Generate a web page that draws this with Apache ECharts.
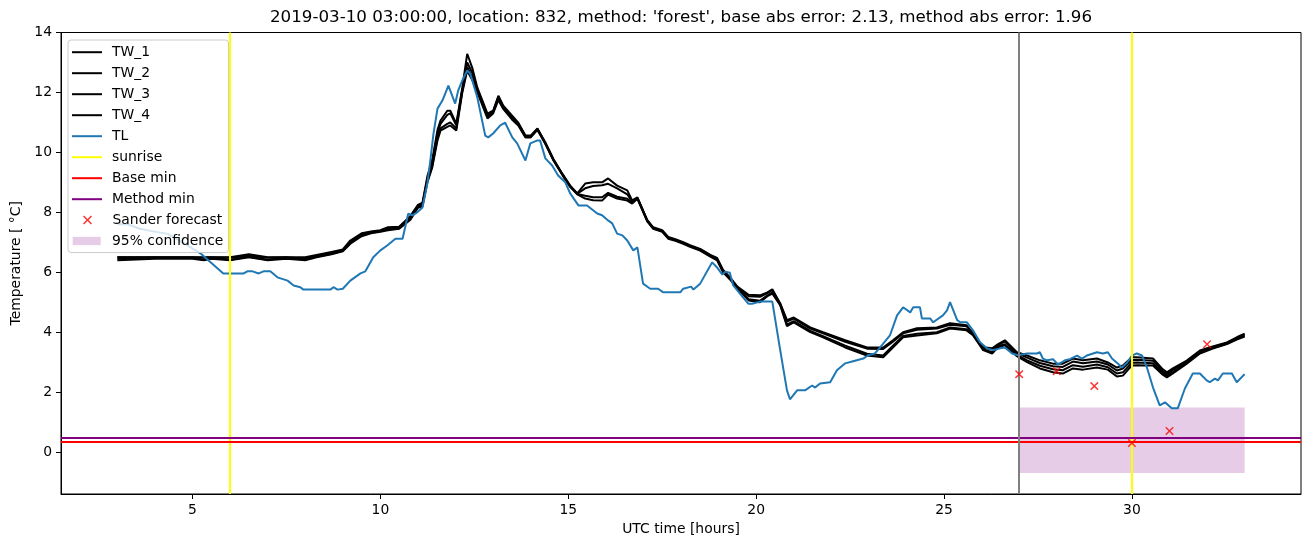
<!DOCTYPE html>
<html><head><meta charset="utf-8">
<script src="https://cdn.jsdelivr.net/npm/echarts@6/dist/echarts.min.js"></script>
<style>html,body{margin:0;padding:0;background:#fff}#c{width:1310px;height:547px}</style>
</head><body><div id="c"></div>
<script>
const twTime = [3,4,5,5.3,5.5,6,6.5,7,7.5,8,8.3,8.7,9.0,9.2,9.5,9.75,10.0,10.2,10.5,10.8,11.0,11.12,11.25,11.38,11.52,11.6,11.78,11.86,12.02,12.18,12.31,12.45,12.58,12.85,13.0,13.14,13.27,13.5,13.67,13.86,14.0,14.18,14.39,14.6,14.84,15.05,15.24,15.45,15.66,15.9,16.06,16.3,16.57,16.7,16.84,17.1,17.26,17.5,17.66,17.85,18.06,18.24,18.51,18.78,18.96,19.12,19.31,19.5,19.8,20.1,20.3,20.43,20.64,20.82,21.0,21.44,21.78,22.37,22.95,23.38,23.64,23.91,24.28,24.81,25.16,25.6,25.77,26.04,26.28,26.44,26.62,26.94,27.21,27.55,27.9,28.16,28.43,28.7,29.07,29.36,29.6,29.76,30.0,30.13,30.56,30.8,30.93,31.09,31.46,31.81,32.15,32.53,32.79,33];
const tw1 = [6.5,6.5,6.5,6.5,6.5,6.5,6.6,6.5,6.5,6.5,6.58,6.68,6.76,7.06,7.3,7.36,7.4,7.5,7.52,7.88,8.25,8.32,9.2,9.75,10.75,11.06,11.39,11.39,10.96,12.16,13.29,12.8,12.16,11.29,11.39,11.89,11.56,11.23,10.99,10.56,10.56,10.8,10.33,9.79,9.29,8.89,8.63,8.96,9.0,9.0,9.13,8.89,8.73,8.4,8.5,7.75,7.5,7.4,7.18,7.1,7.0,6.9,6.78,6.58,6.48,6.08,5.82,5.52,5.25,5.23,5.33,5.43,4.96,4.4,4.49,4.16,4.0,3.73,3.49,3.49,3.73,4.0,4.13,4.16,4.3,4.23,3.96,3.5,3.46,3.6,3.73,3.33,3.22,3.06,2.95,2.95,3.12,3.06,3.12,2.99,2.82,2.89,3.16,3.16,3.12,2.79,2.66,2.79,3.05,3.39,3.52,3.66,3.83,3.95];
const tw2 = [6.5,6.5,6.5,6.48,6.5,6.48,6.55,6.48,6.5,6.45,6.55,6.66,6.73,7.02,7.27,7.34,7.38,7.47,7.5,7.85,8.22,8.28,9.12,9.65,10.65,10.95,11.25,11.3,10.9,12.1,13.0,12.65,12.1,11.22,11.36,11.85,11.52,11.18,10.96,10.54,10.54,10.78,10.31,9.77,9.28,8.88,8.62,8.8,8.88,8.9,8.95,8.8,8.6,8.35,8.48,7.73,7.48,7.38,7.16,7.08,6.98,6.88,6.76,6.56,6.45,6.05,5.8,5.5,5.2,5.18,5.3,5.4,4.95,4.35,4.45,4.12,3.96,3.68,3.45,3.44,3.68,3.96,4.08,4.12,4.25,4.2,3.95,3.48,3.42,3.57,3.69,3.3,3.15,2.97,2.86,2.84,3.02,2.96,3.02,2.92,2.72,2.79,3.07,3.08,3.05,2.72,2.6,2.74,3.02,3.36,3.5,3.64,3.8,3.92];
const tw3 = [6.45,6.48,6.48,6.42,6.48,6.42,6.52,6.42,6.48,6.42,6.52,6.62,6.72,6.98,7.24,7.32,7.37,7.43,7.47,7.8,8.18,8.24,9.05,9.55,10.5,10.8,10.95,11.0,10.8,12.05,12.85,12.5,12.05,11.18,11.33,11.8,11.48,11.14,10.93,10.52,10.52,10.77,10.3,9.76,9.26,8.86,8.61,8.55,8.5,8.5,8.65,8.52,8.45,8.32,8.47,7.72,7.47,7.37,7.14,7.07,6.97,6.87,6.74,6.54,6.43,6.03,5.77,5.47,5.1,5.05,5.23,5.32,4.92,4.25,4.37,4.04,3.87,3.55,3.28,3.22,3.55,3.87,3.95,4.0,4.16,4.1,3.92,3.43,3.33,3.53,3.6,3.24,3.06,2.88,2.76,2.73,2.9,2.85,2.92,2.83,2.62,2.66,2.98,2.99,2.96,2.66,2.54,2.67,2.98,3.32,3.47,3.62,3.78,3.88];
const tw4 = [6.4,6.45,6.45,6.4,6.45,6.4,6.5,6.4,6.45,6.4,6.5,6.6,6.7,6.95,7.2,7.3,7.35,7.4,7.45,7.75,8.15,8.2,9.0,9.5,10.4,10.73,10.85,10.9,10.73,12.0,12.73,12.4,12.0,11.13,11.3,11.75,11.45,11.1,10.9,10.5,10.5,10.75,10.28,9.74,9.25,8.85,8.6,8.46,8.4,8.39,8.59,8.46,8.39,8.29,8.45,7.7,7.45,7.35,7.12,7.05,6.95,6.85,6.72,6.52,6.4,6.0,5.75,5.45,5.06,5.0,5.2,5.29,4.9,4.2,4.33,4.0,3.83,3.49,3.22,3.16,3.49,3.83,3.89,3.96,4.12,4.06,3.9,3.4,3.29,3.5,3.56,3.2,3.0,2.79,2.66,2.62,2.79,2.75,2.82,2.75,2.52,2.55,2.89,2.9,2.89,2.6,2.49,2.62,2.95,3.29,3.45,3.6,3.75,3.85];
const tlTime = [3.0,3.27,3.6,3.88,4.34,4.6,4.95,5.21,5.48,5.82,6.36,6.46,6.6,6.76,6.89,7.07,7.26,7.53,7.69,7.87,7.95,8.67,8.75,8.86,9.0,9.2,9.47,9.6,9.81,10.0,10.19,10.4,10.59,10.74,10.85,10.98,11.12,11.25,11.33,11.41,11.52,11.65,11.81,11.99,12.07,12.18,12.31,12.39,12.58,12.79,12.87,13.0,13.19,13.32,13.51,13.64,13.86,13.99,14.18,14.25,14.39,14.57,14.73,14.92,15.05,15.27,15.5,15.77,15.9,16.06,16.17,16.3,16.44,16.57,16.73,16.84,16.99,17.18,17.39,17.53,17.98,18.06,18.27,18.33,18.51,18.83,18.96,19.1,19.18,19.3,19.39,19.57,19.65,19.79,19.89,20.11,20.43,20.64,20.82,20.9,21.09,21.3,21.49,21.57,21.7,21.97,22.15,22.37,22.58,22.85,22.98,23.16,23.3,23.56,23.75,23.91,24.1,24.18,24.36,24.41,24.63,24.71,24.97,25.08,25.16,25.35,25.43,25.61,25.77,25.96,26.14,26.3,26.49,26.62,26.81,26.97,27.21,27.47,27.55,27.63,27.74,27.9,28.03,28.22,28.35,28.54,28.67,28.8,29.07,29.23,29.36,29.47,29.63,29.73,29.87,30.0,30.13,30.27,30.4,30.56,30.74,30.88,31.06,31.22,31.41,31.62,31.81,31.99,32.07,32.21,32.29,32.42,32.66,32.79,33.0];
const tlTemp = [7.6,7.6,7.45,7.38,7.28,7.1,6.83,6.63,6.33,5.96,5.96,6.03,6.03,5.96,6.03,6.03,5.83,5.72,5.56,5.5,5.42,5.42,5.5,5.42,5.45,5.72,5.96,6.03,6.5,6.73,6.9,7.12,7.12,7.95,7.9,8.0,8.16,8.96,9.73,10.6,11.46,11.73,12.23,11.63,12.06,12.4,12.73,12.63,11.83,10.56,10.5,10.63,10.9,10.99,10.5,10.3,9.73,10.3,10.4,10.4,9.8,9.56,9.23,9.0,8.63,8.23,8.23,7.96,7.9,7.73,7.63,7.29,7.23,7.06,6.73,6.83,5.62,5.45,5.45,5.33,5.33,5.45,5.52,5.42,5.62,6.33,6.16,5.92,6.02,5.98,5.56,5.29,5.16,4.95,4.95,5.02,5.02,3.4,2.06,1.76,2.06,2.06,2.22,2.15,2.29,2.33,2.73,2.96,3.03,3.12,3.23,3.29,3.49,3.89,4.56,4.83,4.66,4.83,4.83,4.46,4.46,4.33,4.56,4.73,5.0,4.4,4.33,4.33,4.06,3.66,3.46,3.4,3.46,3.49,3.29,3.23,3.29,3.29,3.33,3.12,3.06,3.1,2.92,3.06,3.1,3.22,3.12,3.22,3.33,3.29,3.33,3.12,2.95,2.82,2.98,3.22,3.29,3.22,2.82,2.16,1.56,1.66,1.46,1.46,2.12,2.62,2.62,2.39,2.33,2.45,2.39,2.62,2.62,2.33,2.6];
const sunriseHours = [6, 30];
const forecastStartHour = [27];
const baseMin = [0.33];
const methodMin = [0.47];
const sanderTime = [27, 28, 29, 30, 31, 32];
const sanderTemp = [2.6, 2.7, 2.2, 0.3, 0.7, 3.6];
const confHours = [27, 33];
const confTemp = [-0.70, 1.49];
const xTicks = [5, 10, 15, 20, 25, 30];
const yTicks = [0, 2, 4, 6, 8, 10, 12, 14];

const FONT = 'DejaVu Sans';
const zip = (a, b) => a.map((v, i) => [v, b[i]]);
const lineIcon = 'path://M0,0H30V2H0Z';
const crossPath = 'path://M0,1.2L1.2,0L5,3.8L8.8,0L10,1.2L6.2,5L10,8.8L8.8,10L5,6.2L1.2,10L0,8.8L3.8,5Z';

function twSeries(name, vals) {
  return { name, type: 'line', data: zip(twTime, vals), showSymbol: false, symbol: 'none',
    lineStyle: { color: '#000', width: 2 }, itemStyle: { color: '#000' }, z: 3 };
}
function markSeries(name, color, key, vals, width) {
  return { name, type: 'line', data: [], symbol: 'none',
    lineStyle: { color, width: 2 }, itemStyle: { color },
    markLine: { symbol: ['none', 'none'], silent: true, label: { show: false },
      lineStyle: { color, width: width || 2, type: 'solid' }, emphasis: { disabled: true },
      data: vals.map(v => ({ [key]: v })) }, z: 4 };
}

const legendText = { fontFamily: FONT, fontSize: 13.9, color: '#000', lineHeight: 14, padding: [0, 0, 0, 5] };

const option = {
  animation: false,
  backgroundColor: '#fff',
  title: { text: "2019-03-10 03:00:00, location: 832, method: 'forest', base abs error: 2.13, method abs error: 1.96",
    left: 681, top: 9, padding: 0, textAlign: 'center',
    textStyle: { fontFamily: FONT, fontSize: 16.7, fontWeight: 'normal', color: '#000' } },
  grid: { left: 61, right: 9, top: 32.5, bottom: 53, show: true, borderColor: '#000', borderWidth: 1, backgroundColor: 'transparent' },
  xAxis: { type: 'value', min: 1.5, max: 34.5,
    name: 'UTC time [hours]', nameLocation: 'middle', nameGap: 28,
    nameTextStyle: { fontFamily: FONT, fontSize: 13.9, color: '#000' },
    axisLine: { show: true, onZero: false, lineStyle: { color: '#000', width: 1 } },
    axisTick: { show: true, length: 5, customValues: xTicks, lineStyle: { color: '#000' } },
    axisLabel: { customValues: xTicks, margin: 9, fontFamily: FONT, fontSize: 13.9, color: '#000' },
    splitLine: { show: false } },
  yAxis: { type: 'value', min: -1.4, max: 14,
    name: 'Temperature [ °C]', nameLocation: 'middle', nameGap: 36.5,
    nameTextStyle: { fontFamily: FONT, fontSize: 13.9, color: '#000' },
    axisLine: { show: true, onZero: false, lineStyle: { color: '#000', width: 1 } },
    axisTick: { show: true, length: 5, customValues: yTicks, lineStyle: { color: '#000' } },
    axisLabel: { customValues: yTicks, margin: 9, fontFamily: FONT, fontSize: 13.9, color: '#000' },
    splitLine: { show: false } },
  legend: [
    { data: ['TW_1','TW_2','TW_3','TW_4','TL','sunrise','Base min','Method min'].map(n => ({ name: n, icon: lineIcon })),
      orient: 'vertical', left: 72, top: 45.2, padding: 0, itemWidth: 30, itemHeight: 14, itemGap: 7,
      symbolKeepAspect: true, selectedMode: false, textStyle: legendText, z: 5 },
    { data: [{ name: 'Sander forecast', icon: crossPath }], orient: 'vertical', left: 83, top: 213, padding: 0, itemWidth: 30, itemHeight: 9,
      symbolKeepAspect: true, selectedMode: false, textStyle: legendText, z: 5 },
    { data: [{ name: '95% confidence', icon: 'rect' }], orient: 'vertical', left: 72.7, top: 234, padding: 0, itemWidth: 28, itemHeight: 8.3,
      selectedMode: false, textStyle: Object.assign({}, legendText, { padding: [0, 0, 0, 6.3] }), z: 5 }
  ],
  graphic: [{ type: 'rect', z: 4, silent: true,
    shape: { x: 68, y: 40, width: 160.5, height: 212.5, r: 3 },
    style: { fill: 'rgba(255,255,255,0.8)', stroke: '#cccccc', lineWidth: 1 } }],
  series: [
    { name: '95% confidence', type: 'line', data: [], symbol: 'none',
      itemStyle: { color: 'rgba(128,0,128,0.2)' }, lineStyle: { color: 'rgba(128,0,128,0.2)' },
      markArea: { silent: true, itemStyle: { color: 'rgba(128,0,128,0.2)' },
        data: [[{ xAxis: confHours[0], yAxis: confTemp[0] }, { xAxis: confHours[1], yAxis: confTemp[1] }]] }, z: 1 },
    twSeries('TW_1', tw1), twSeries('TW_2', tw2), twSeries('TW_3', tw3), twSeries('TW_4', tw4),
    { name: 'TL', type: 'line', data: zip(tlTime, tlTemp), showSymbol: false, symbol: 'none',
      lineStyle: { color: '#1f77b4', width: 2 }, itemStyle: { color: '#1f77b4' }, z: 3 },
    markSeries('sunrise', '#ffff00', 'xAxis', sunriseHours),
    markSeries('Base min', '#ff0000', 'yAxis', baseMin),
    markSeries('Method min', '#800080', 'yAxis', methodMin),
    markSeries('forecast start', '#808080', 'xAxis', forecastStartHour),
    { name: 'Sander forecast', type: 'scatter', data: zip(sanderTime, sanderTemp),
      symbol: crossPath, symbolSize: 8.5, symbolKeepAspect: true, itemStyle: { color: '#ff0000' }, z: 5 }
  ]
};
const chart = echarts.init(document.getElementById('c'), null, { renderer: 'canvas' });
chart.setOption(option);
</script></body></html>
